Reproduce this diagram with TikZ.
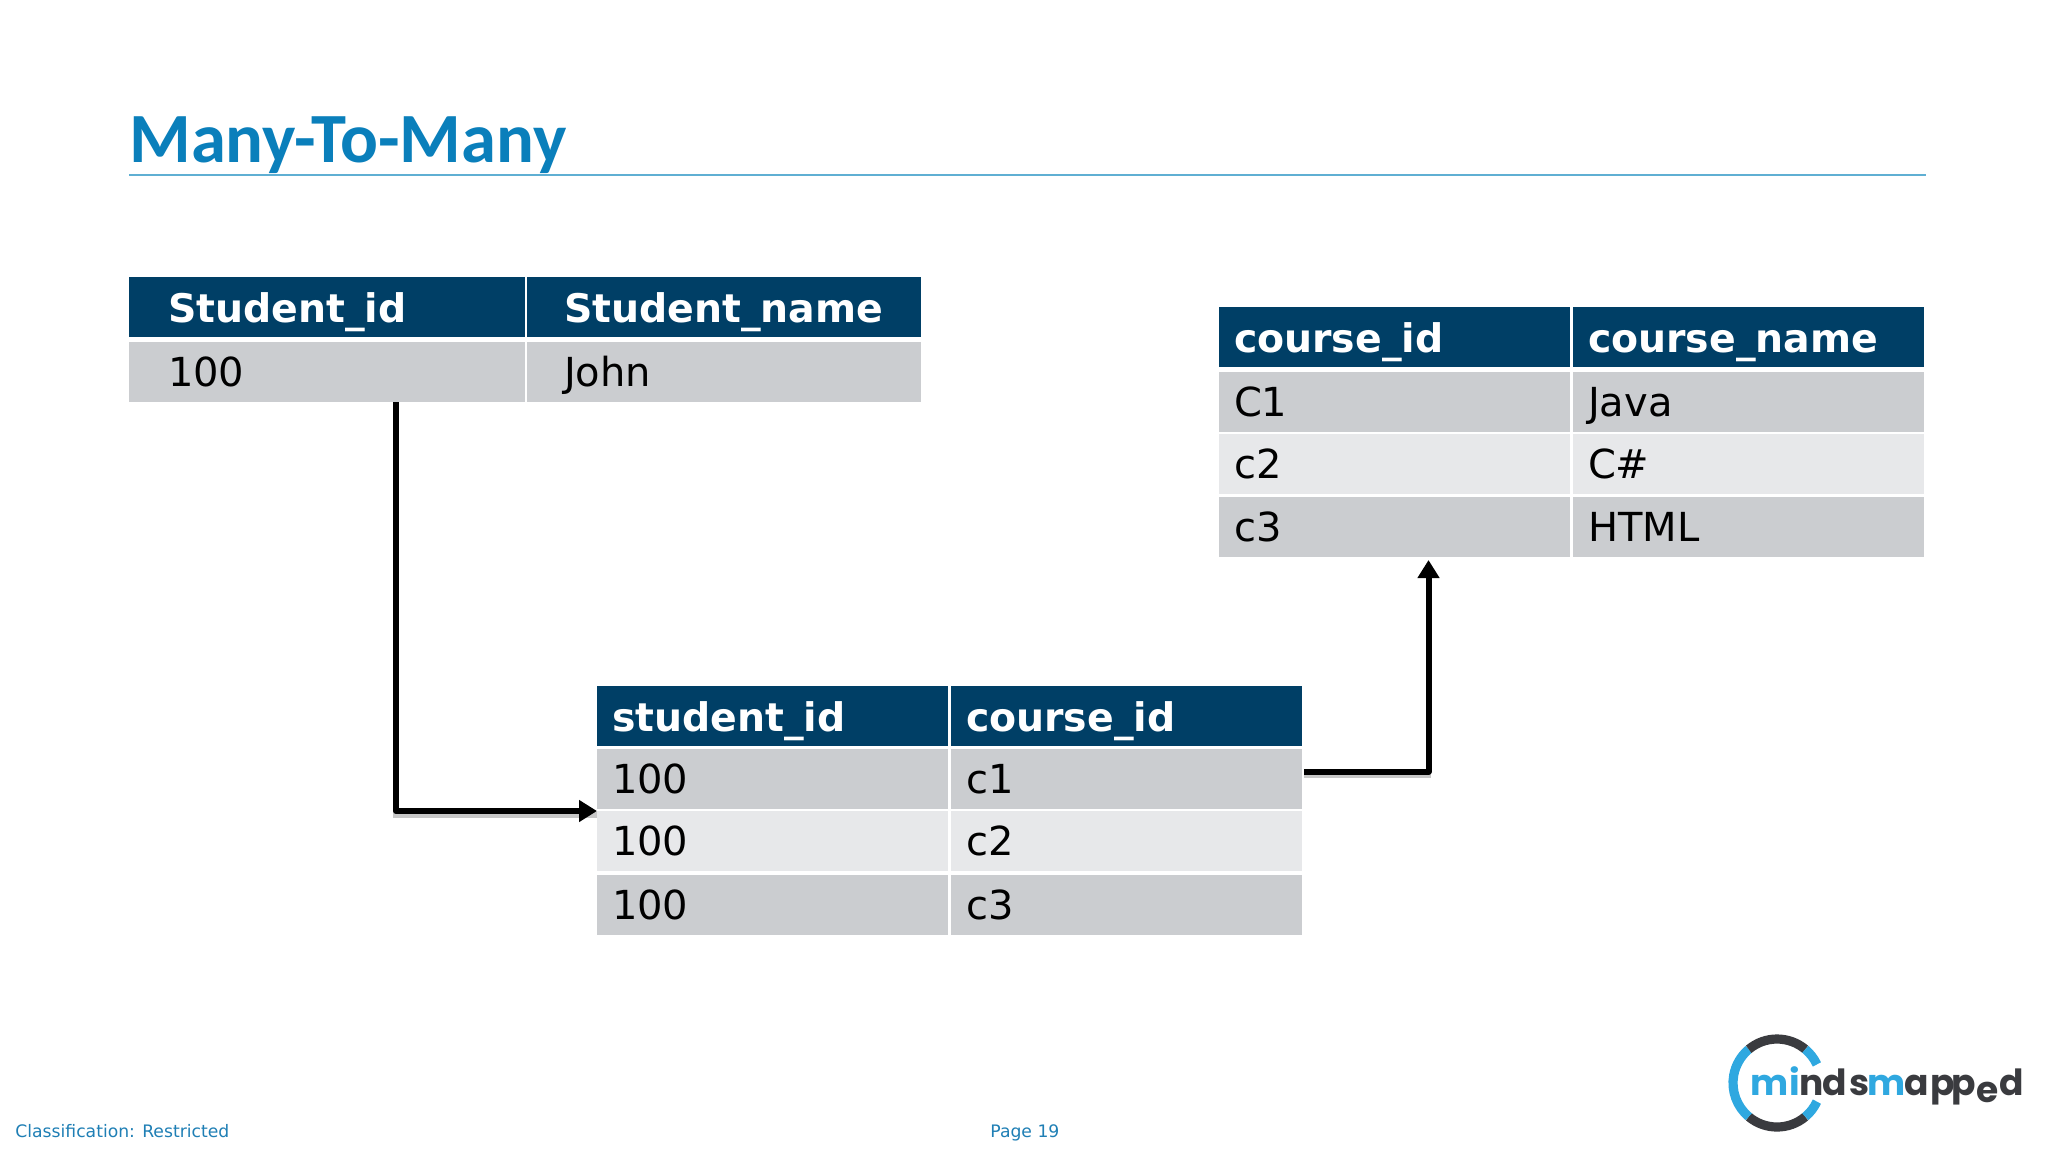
\documentclass[tikz,border=0pt]{standalone}
\usepackage{fontspec}
\setmainfont{DejaVu Sans}
\newfontfamily\titlefont{Carlito}
\newfontfamily\logofont{Poppins}
\usetikzlibrary{arrows.meta}
\definecolor{headblue}{HTML}{003F66}
\definecolor{rowdark}{HTML}{CBCDD0}
\definecolor{rowlight}{HTML}{E7E8EA}
\definecolor{titleblue}{HTML}{0A7FBB}
\definecolor{ruleblue}{HTML}{5FAFD3}
\definecolor{footblue}{HTML}{1F7FB5}
\definecolor{logoblue}{HTML}{2FA8E0}
\definecolor{logodark}{HTML}{3A3B3F}
\tikzset{
    tabcell/.style 2 args={anchor=north west, inner ysep=0pt, inner xsep=#1, outer sep=0pt,
        text width=#2, align=left, minimum height=30pt, text height=17pt, text depth=2pt},
    headcell/.style={fill=headblue, text=white, font=\fontsize{19.7}{20}\bfseries\selectfont},
    darkcell/.style={fill=rowdark, text=black, text height=16.5pt, text depth=2.5pt, font=\fontsize{20}{21}\selectfont},
    lightcell/.style={fill=rowlight, text=black, text height=16.5pt, text depth=2.5pt, font=\fontsize{20}{21}\selectfont},
    wideleft/.style={tabcell={19.5pt}{159pt}},
    wideright/.style={tabcell={18.5pt}{160pt}},
    narrowcol/.style={tabcell={7.5pt}{160.5pt}},
    linkline/.style={draw=black, line width=3pt, line join=round, -{Triangle[length=9pt,width=10.5pt]},
        preaction={draw=black!22, line width=2.6pt, -, transform canvas={yshift=-2pt}}},
    logoarc/.style={line width=4.6pt, line cap=butt},
    footnote/.style={text=footblue, anchor=base west, inner sep=0pt, font=\fontsize{8.6}{9}\selectfont}
}
\begin{document}
\begin{tikzpicture}[x=0.5pt,y=-0.5pt]
    \useasboundingbox[fill=white] (0,0) rectangle (2048,1152);

    % title
    \node[anchor=base west, inner sep=0pt, text=titleblue, font=\fontsize{35.3}{38}\titlefont\bfseries] (title) at (129,162) {Many-To-Many};
    \draw[ruleblue, line width=1pt] (129,175) -- (1926,175);

    % student table
    \node[wideleft, headcell] (stuheada) at (129,277) {Student\_id};
    \node[wideright, headcell] (stuheadb) at (527,277) {Student\_name};
    \node[wideleft, darkcell] (stua) at (129,342) {100};
    \node[wideright, darkcell] (stub) at (527,342) {John};

    % course table
    \node[narrowcol, headcell] (couheada) at (1219,307) {course\_id};
    \node[narrowcol, headcell] (couheadb) at (1573,307) {course\_name};
    \foreach \ypos/\sty/\rowid/\cid/\cname in {372/darkcell/one/C1/Java, 434/lightcell/two/c2/C\#, 497/darkcell/three/c3/HTML} {
        \node[narrowcol, \sty] (cou\rowid a) at (1219,\ypos) {\cid};
        \node[narrowcol, \sty] (cou\rowid b) at (1573,\ypos) {\cname};
    }

    % link table
    \node[narrowcol, headcell] (linkheada) at (597,686) {student\_id};
    \node[narrowcol, headcell] (linkheadb) at (951,686) {course\_id};
    \foreach \ypos/\sty/\rowid/\cid in {749/darkcell/one/c1, 811/lightcell/two/c2, 875/darkcell/three/c3} {
        \node[narrowcol, \sty] (link\rowid a) at (597,\ypos) {100};
        \node[narrowcol, \sty] (link\rowid b) at (951,\ypos) {\cid};
    }

    % connectors
    \draw[linkline] ([xshift=34.5pt]stua.south) |- (linktwoa.north west);
    \draw[linkline] ([xshift=1pt,yshift=3.7pt]linkoneb.east) -| ([xshift=17pt,yshift=-1.5pt]couthreea.south);

    % footer
    \node[footnote] (classnote) at (15,1137) {Classification: Restricted};
    \node[footnote] (pagenote) at (990,1137) {Page 19};

    % logo
    \coordinate (ring) at (1777,1083);
    \draw[logoarc, logodark] ([shift={(50:44)}]ring) arc[start angle=-50, end angle=-130, radius=22pt] coordinate (ringa);
    \draw[logoarc, logoblue] (ringa) arc[start angle=-130, end angle=-230, radius=22pt] coordinate (ringb);
    \draw[logoarc, logodark] (ringb) arc[start angle=-230, end angle=-310, radius=22pt] coordinate (ringc);
    \draw[logoarc, logoblue] (ringc) arc[start angle=-310, end angle=-335, radius=22pt];
    \draw[logoarc, logoblue] ([shift={(50:44)}]ring) arc[start angle=-50, end angle=-25, radius=22pt];
    \foreach \xpos/\ypos/\letter/\col/\nm in {1770/1095/m/logoblue/la, 1795/1095/i/logoblue/lb, 1812/1095/n/logodark/lc, 1835/1095/d/logodark/ld, 1860/1095/s/logodark/le, 1887/1095/m/logoblue/lf, 1917/1095/a/logodark/lg, 1943/1095/p/logodark/lh, 1964/1095/p/logodark/li, 1988/1102/e/logodark/lj, 2012/1095/d/logodark/lk} {
        \node[anchor=base, inner sep=0pt, text=\col, font=\fontsize{18}{18}\logofont\bfseries] (\nm) at (\xpos,\ypos) {\letter};
    }
\end{tikzpicture}
\end{document}
